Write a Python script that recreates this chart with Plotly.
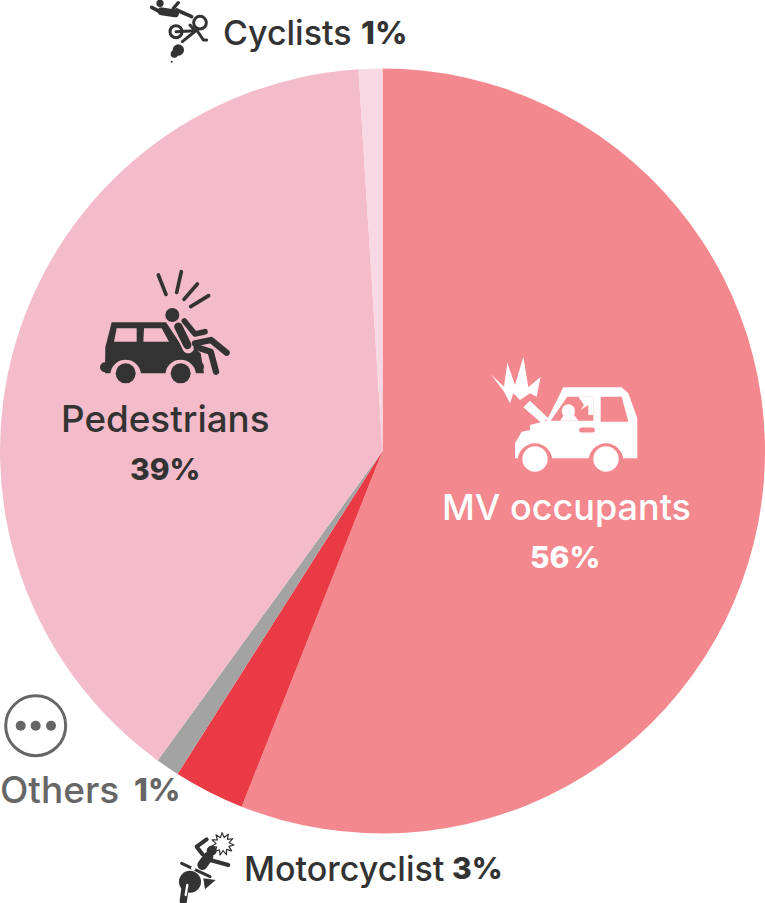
import math
import plotly.graph_objects as go

W, H = 765, 903
CATEGORIES = ["MV occupants", "Motorcyclist", "Others", "Pedestrians", "Cyclists"]
VALUES = [56, 3, 1, 39, 1]
COLORS = ["#F3888E", "#EA3A46", "#A3A3A3", "#F4BCCA", "#F8D8E2"]
DARK, GREY, WHITE = "#333333", "#666666", "#FFFFFF"
PED, MV = COLORS[3], COLORS[0]
FONT = "Inter"

shapes = []
def px(x): return x / W
def py(y): return 1 - y / H

def circle(cx, cy, r, fill=None, line=None, lw=0):
    shapes.append(dict(type="circle", xref="paper", yref="paper", x0=px(cx-r), x1=px(cx+r),
                       y0=py(cy+r), y1=py(cy-r), fillcolor=fill or "rgba(0,0,0,0)",
                       line=dict(color=line or "rgba(0,0,0,0)", width=lw)))

def path(pts, fill=None, line=None, lw=0, close=True):
    d = "M" + " L".join(f"{px(x):.5f},{py(y):.5f}" for x, y in pts) + (" Z" if close else "")
    shapes.append(dict(type="path", xref="paper", yref="paper", path=d,
                       fillcolor=fill or "rgba(0,0,0,0)",
                       line=dict(color=line or "rgba(0,0,0,0)", width=lw)))

def make(ox, oy, s=1/3):
    T = lambda pts: [(ox + x*s, oy + y*s) for x, y in pts]
    def poly(pts, fill): path(T(pts), fill=fill)
    def stroke(pts, color, lw): path(T(pts), line=color, lw=lw*s, close=False)
    def circ(x, y, r, fill=None, line=None, lw=0):
        circle(ox + x*s, oy + y*s, r*s, fill, line, lw*s)
    return poly, stroke, circ

# Pedestrian car icon
poly, stroke, circ = make(80, 260)
poly([(95,187),(258,187),(300,250),(340,262),(362,280),(372,340),(75,340),(76,262)], DARK)
poly([(110,205),(170,205),(170,245),(102,245)], PED)
poly([(192,205),(245,205),(267,245),(190,245)], PED)
circ(75,322,15,DARK); circ(358,320,14,DARK)
circ(137,345,46,PED); circ(302,345,46,PED)
circ(137,340,30,DARK); circ(302,340,30,DARK)
for a, b in [((235,45),(258,103)),((304,35),(290,97)),((352,72),(312,118)),((386,107),(332,140))]:
    stroke([a,b], DARK, 11)
circ(277,165,21,DARK)
stroke([(295,200),(325,262)], PED, 36)
stroke([(295,200),(322,255)], DARK, 25)
stroke([(313,183),(345,222),(375,215)], DARK, 17)
stroke([(345,250),(393,240),(440,278)], DARK, 19)
stroke([(350,262),(392,275),(408,335)], DARK, 19)

# MV occupants car icon
poly, stroke, circ = make(480, 350)
poly([(32,72),(72,110),(82,38),(105,105),(130,20),(145,112),(182,80),
      (170,140),(150,130),(120,150),(100,130),(90,160),(72,125)], WHITE)
poly([(105,280),(125,245),(150,240),(150,225),(200,212),(250,112),(425,112),(445,130),(472,205),
      (472,325),(105,325)], WHITE)
poly([(130,172),(150,152),(205,205),(185,220)], WHITE)
poly([(362,140),(425,140),(445,215),(362,215)], MV)
poly([(262,140),(340,140),(340,212),(212,212)], MV)
circ(265,183,20,WHITE)
poly([(240,212),(252,195),(282,195),(296,212)], WHITE)
poly([(295,140),(312,165),(302,180),(325,165),(325,195),(340,195),(340,140)], WHITE)
stroke([(305,240),(337,240)], MV, 15)
circ(165,332,52,MV); circ(378,332,52,MV)
poly([(50,325),(105,325),(105,400),(50,400)], MV)
circ(165,327,38,WHITE); circ(378,327,38,WHITE)

# Cyclists icon
poly, stroke, circ = make(145, 0)
circ(45,10,11,DARK)
stroke([(20,22),(50,38)], DARK, 11)
stroke([(50,34),(90,40)], DARK, 24)
stroke([(100,8),(85,25)], DARK, 10)
stroke([(95,30),(140,50)], DARK, 11)
circ(165,68,19,None,DARK,9); circ(93,95,18,None,DARK,9)
stroke([(93,95),(150,92),(135,75)], DARK, 9)
stroke([(112,125),(155,90),(175,120),(185,120)], DARK, 9)
circ(100,150,17,DARK); circ(88,162,11,DARK); circ(80,185,3,DARK)

# Others icon
circle(35.7, 725.7, 30, None, GREY, 3)
for x in (20.7, 35.7, 51):
    circle(x, 725.7, 5, GREY)

# Motorcyclist icon
poly, stroke, circ = make(170, 830)
star = []
for i in range(22):
    r = 34 if i % 2 == 0 else 20
    a = math.radians(i * 360 / 22 + 5)
    star.append((158 + r*math.cos(a), 42 + r*math.sin(a)))
path([(170 + x/3, 830 + y/3) for x, y in star], fill=WHITE, line=DARK, lw=1.2)
circ(125,62,15,DARK)
stroke([(115,80),(97,105)], DARK, 30)
stroke([(97,72),(80,50),(110,28)], DARK, 12)
stroke([(120,90),(175,105)], DARK, 12)
circ(60,155,33,DARK)
poly([(100,145),(137,150),(105,178)], DARK)
stroke([(35,100),(120,140)], WHITE, 13)
stroke([(35,100),(120,140)], DARK, 9)
circ(70,115,7,WHITE)
stroke([(45,175),(40,212)], DARK, 22)
stroke([(52,165),(47,195)], WHITE, 7)

# Labels
def ann(x, y, text, color, size, bold=False, anchor="center"):
    return dict(xref="paper", yref="paper", x=px(x), y=py(y), text=text,
                showarrow=False, xanchor=anchor, yanchor="middle",
                font=dict(family=FONT, size=size, color=color, weight=800 if bold else 500))

pct = [f"{v}%" for v in VALUES]
annotations = [
    ann(566, 507, CATEGORIES[0], WHITE, 36),
    ann(565, 557, pct[0], WHITE, 30, True),
    ann(165, 418, CATEGORIES[3], DARK, 36.8),
    ann(165, 469, pct[3], DARK, 30, True),
    ann(221, 32, CATEGORIES[4], DARK, 34, anchor="left"),
    ann(359, 32, pct[4], DARK, 31.5, True, "left"),
    ann(242, 868, CATEGORIES[1], DARK, 34, anchor="left"),
    ann(450, 868, pct[1], DARK, 30, True, "left"),
    ann(-2, 789, CATEGORIES[2], GREY, 37, anchor="left"),
    ann(132, 789, pct[2], GREY, 31.5, True, "left"),
]

cx, cy, R = 382.5, 451, 382.5
fig = go.Figure(go.Pie(labels=CATEGORIES, values=VALUES, sort=False, direction="clockwise",
                       rotation=0, textinfo="none", hoverinfo="label+percent",
                       marker=dict(colors=COLORS, line=dict(width=0)),
                       domain=dict(x=[px(cx-R), px(cx+R)], y=[py(cy+R), py(cy-R)])))
fig.update_layout(width=W, height=H, margin=dict(l=0, r=0, t=0, b=0), showlegend=False,
                  paper_bgcolor="white", shapes=shapes, annotations=annotations)
post = ("document.body.style.margin='0';"
        "document.querySelectorAll('.shapelayer path').forEach(p=>{p.style.strokeLinecap='round';p.style.strokeLinejoin='round';});")
fig.write_html("out.html", post_script=post, config=dict(displayModeBar=False))
